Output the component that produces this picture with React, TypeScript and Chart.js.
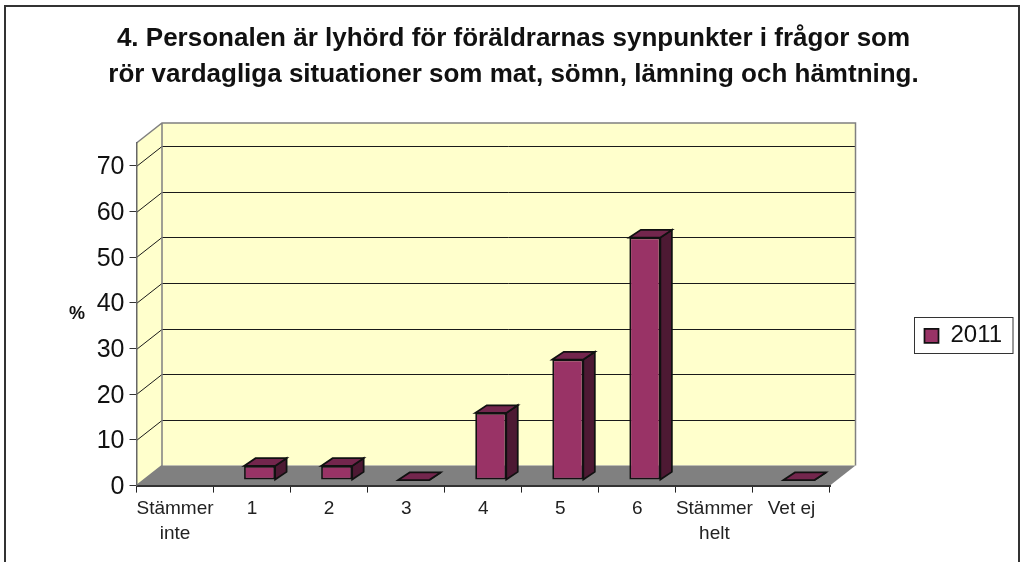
import React, { useEffect, useRef } from "react";
import { Chart, registerables } from "chart.js";

Chart.register(...registerables);

const categories = [["Stämmer", "inte"], "1", "2", "3", "4", "5", "6", ["Stämmer", "helt"], "Vet ej"];
const values2011 = [null, 3.1, 3.1, 0, 14.7, 26.4, 53.1, null, 0];
const seriesName = "2011";
const titleLines = [
  "4. Personalen är lyhörd för föräldrarnas synpunkter i frågor som",
  "rör vardagliga situationer som mat, sömn, lämning och hämtning.",
];
const yTitle = "%";

const FONT = "'Liberation Sans', Arial, sans-serif";
const BAR = "#993366";
const BAR_TOP = "#73264d";
const BAR_SIDE = "#4d1933";
const WALL = "#ffffcc";
const FLOOR = "#808080";
const DX = 25.5;
const DY = -20;
const BAR_DX = 7.5;
const BAR_DY = -5.5;
const BAR_DEPTH_X = 11.5;
const BAR_DEPTH_Y = -7.7;

function poly(ctx: CanvasRenderingContext2D, pts: number[][], fill?: string, stroke?: string, lw = 1) {
  ctx.beginPath();
  pts.forEach((p, i) => (i ? ctx.lineTo(p[0], p[1]) : ctx.moveTo(p[0], p[1])));
  ctx.closePath();
  if (fill) {
    ctx.fillStyle = fill;
    ctx.fill();
  }
  if (stroke) {
    ctx.strokeStyle = stroke;
    ctx.lineWidth = lw;
    ctx.stroke();
  }
}

const scene3d = {
  id: "scene3d",
  afterLayout(chart: any) {
    chart.titleBlock.left = 6;
    chart.titleBlock.right = 1021;
    const lg = chart.legend;
    lg.left = 915;
    lg.right = 1013;
    lg.top = 317.5;
    lg.bottom = 354;
    const ys = chart.scales.y;
    if (!ys.__shifted) {
      ys.__shifted = true;
      const orig = ys.drawLabels;
      ys.drawLabels = function (area: any) {
        chart.ctx.save();
        chart.ctx.translate(0, 1.5);
        orig.call(ys, area);
        chart.ctx.restore();
      };
    }
  },
  beforeDraw(chart: any) {
    const { ctx, chartArea: a, scales } = chart;
    const { left: l, right: r, top: t, bottom: b } = a;
    ctx.save();
    ctx.fillStyle = "#ffffff";
    ctx.fillRect(0, 0, chart.width, chart.height);
    ctx.strokeStyle = "#333333";
    ctx.lineWidth = 2;
    ctx.strokeRect(5, 6, 1014, 570);

    poly(ctx, [[l + DX, t + DY], [r + DX, t + DY], [r + DX, b + DY], [l + DX, b + DY]], WALL);
    poly(ctx, [[l, t], [l + DX, t + DY], [l + DX, b + DY], [l, b]], WALL);
    poly(ctx, [[l, b], [l + DX, b + DY], [r + DX, b + DY], [r, b]], FLOOR);

    ctx.strokeStyle = "#1a1a1a";
    ctx.lineWidth = 1;
    for (const tick of scales.y.ticks) {
      if (tick.value === 0) continue;
      const y = Math.round(scales.y.getPixelForValue(tick.value)) + 0.5;
      ctx.beginPath();
      ctx.moveTo(l, y);
      ctx.lineTo(l + DX, y + DY);
      ctx.lineTo(r + DX, y + DY);
      ctx.stroke();
    }
    ctx.strokeStyle = FLOOR;
    ctx.lineWidth = 1.5;
    ctx.beginPath();
    ctx.moveTo(l, t);
    ctx.lineTo(l + DX, t + DY);
    ctx.lineTo(r + DX, t + DY);
    ctx.lineTo(r + DX, b + DY);
    ctx.moveTo(l + DX, t + DY);
    ctx.lineTo(l + DX, b + DY);
    ctx.lineTo(l, b);
    ctx.stroke();
    ctx.restore();
  },
  beforeDatasetDraw(chart: any, args: any) {
    const { ctx } = chart;
    ctx.save();
    ctx.translate(BAR_DX, BAR_DY);
    args.meta.data.forEach((bar: any, i: number) => {
      if (values2011[i] === null) return;
      const { x, y, base, width } = bar.getProps(["x", "y", "base", "width"], true);
      const x0 = x - width / 2;
      const x1 = x + width / 2;
      poly(ctx, [[x1, y], [x1 + BAR_DEPTH_X, y + BAR_DEPTH_Y], [x1 + BAR_DEPTH_X, base + BAR_DEPTH_Y], [x1, base]], BAR_SIDE, "#111111", 1.75);
      poly(ctx, [[x0, y], [x0 + BAR_DEPTH_X, y + BAR_DEPTH_Y], [x1 + BAR_DEPTH_X, y + BAR_DEPTH_Y], [x1, y]], BAR_TOP, "#111111", 1.75);
    });
  },
  afterDatasetDraw(chart: any) {
    chart.ctx.restore();
  },
  afterDraw(chart: any) {
    const { ctx } = chart;
    ctx.save();
    ctx.strokeStyle = "#333333";
    ctx.lineWidth = 1;
    ctx.strokeRect(914.5, 317.5, 98.5, 36);
    ctx.fillStyle = "#111111";
    ctx.font = `bold 18px ${FONT}`;
    ctx.textAlign = "center";
    ctx.textBaseline = "middle";
    ctx.fillText(yTitle, 77, 314);
    ctx.restore();
  },
};

export default function App() {
  const ref = useRef<HTMLCanvasElement | null>(null);
  useEffect(() => {
    const chart = new Chart(ref.current as HTMLCanvasElement, {
      type: "bar",
      data: {
        labels: categories as any,
        datasets: [
          {
            label: seriesName,
            data: values2011 as any,
            backgroundColor: BAR,
            borderColor: "#111111",
            borderWidth: 1.75,
            borderSkipped: false,
            barPercentage: 0.4026,
            categoryPercentage: 1,
            minBarLength: 0,
            clip: false as any,
          },
        ],
      },
      options: {
        responsive: false,
        animation: false,
        events: [],
        layout: { padding: { left: 0, right: 191, top: 0, bottom: 0 } },
        plugins: {
          tooltip: { enabled: false },
          title: {
            display: true,
            text: titleLines,
            color: "#111111",
            font: { family: FONT, size: 26, weight: "bold", lineHeight: 1.385 },
            padding: { top: 21, bottom: 50 },
          },
          legend: {
            display: true,
            position: "chartArea" as any,
            align: "center",
            labels: {
              color: "#111111",
              font: { family: FONT, size: 24 },
              boxWidth: 14,
              boxHeight: 14,
              padding: 9.5,
            },
          },
        },
        scales: {
          x: {
            afterFit(s: any) {
              s.height = 76.4;
            },
            grid: { drawOnChartArea: false, drawTicks: true, tickLength: 7, tickColor: "#222222", offset: true },
            border: { color: "#333333", width: 2 },
            ticks: {
              color: "#222222",
              font: { family: FONT, size: 19, lineHeight: 1.316 },
              maxRotation: 0,
              autoSkip: false,
              padding: 4,
            },
          },
          y: {
            min: 0,
            max: 75,
            afterFit(s: any) {
              s.width = 136.5;
            },
            grid: { drawOnChartArea: false, drawTicks: true, tickLength: 7, tickColor: "#333333" },
            border: { color: "#666666", width: 1.5 },
            ticks: {
              stepSize: 10,
              includeBounds: false,
              color: "#111111",
              font: { family: FONT, size: 25 },
              padding: 5,
            },
          },
        },
      },
      plugins: [scene3d],
    } as any);
    return () => chart.destroy();
  }, []);
  return (
    <div style={{ position: "fixed", left: 0, top: 0, width: 1021, height: 562, overflow: "hidden", background: "#fff" }}>
      <canvas ref={ref} width={1021} height={562} style={{ display: "block" }} />
    </div>
  );
}
